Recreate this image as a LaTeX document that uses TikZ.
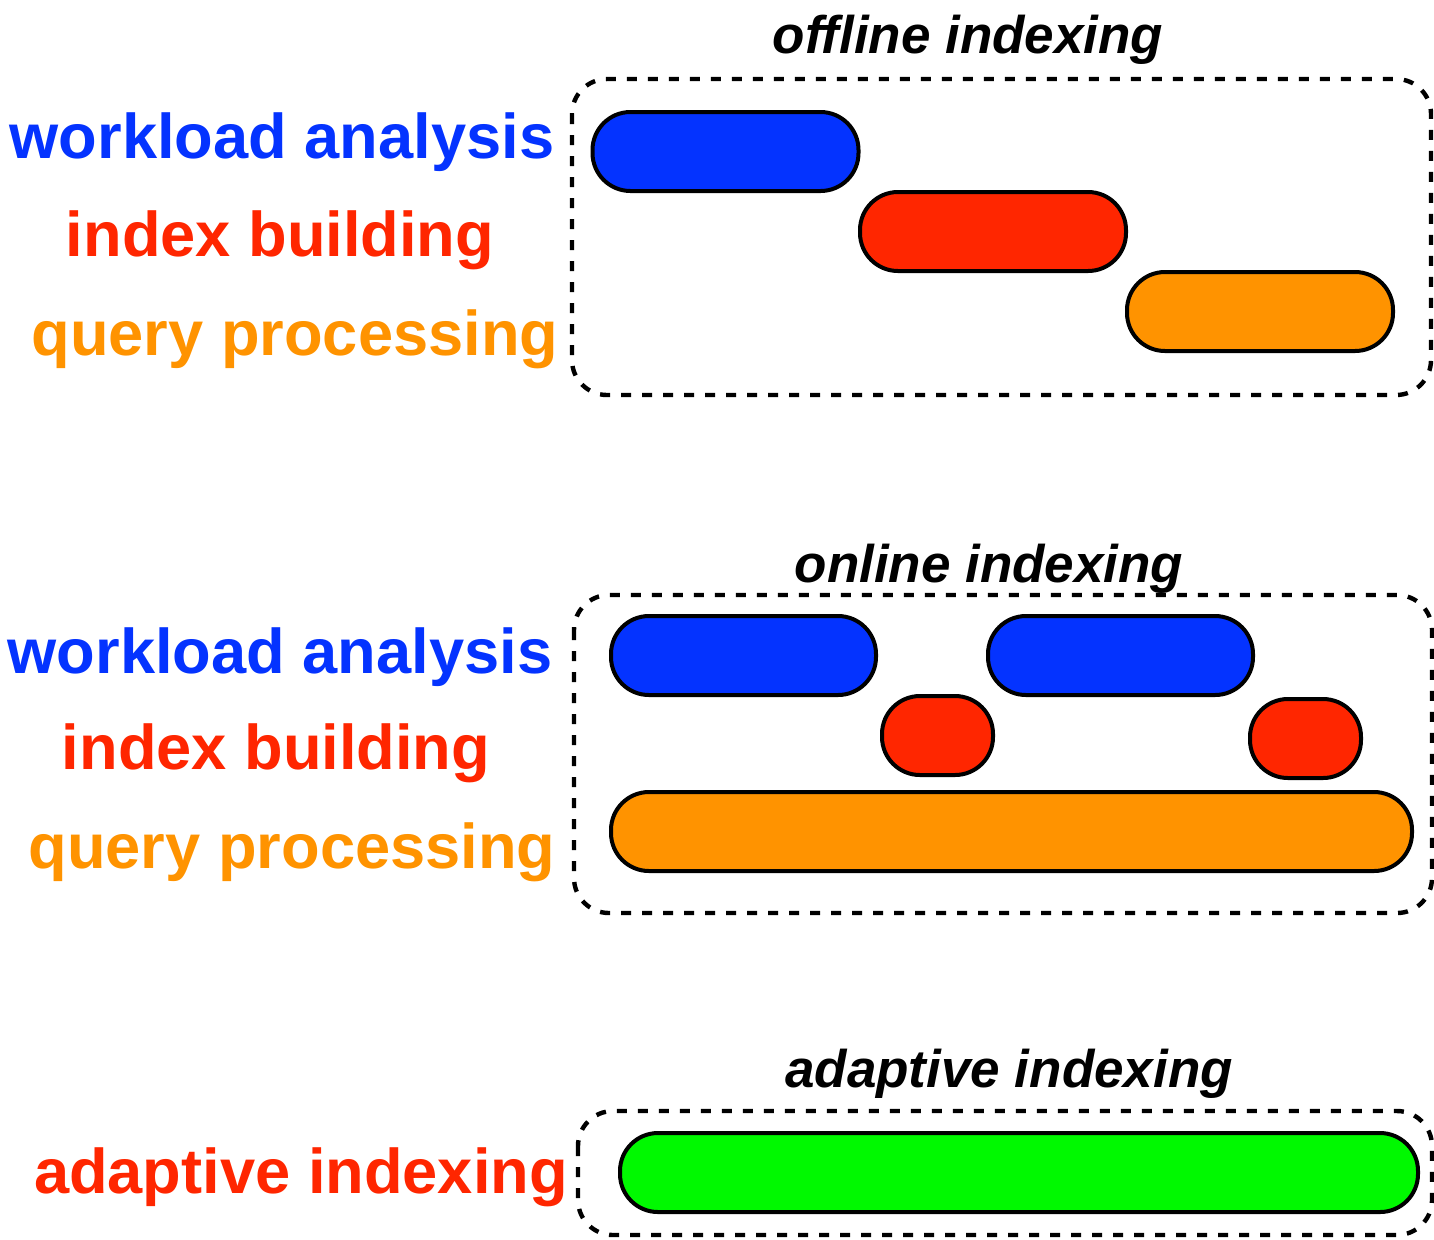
\documentclass[tikz,border=0pt]{standalone}
\usepackage{fontspec}
\setmainfont{Liberation Sans}
\definecolor{cblue}{HTML}{0433FF}
\definecolor{cred}{HTML}{FF2600}
\definecolor{corange}{HTML}{FF9300}
\definecolor{cgreen}{HTML}{00F900}
\begin{document}
\begin{tikzpicture}[x=0.5pt,y=-0.5pt,
  bar/.style={draw=black, line width=2pt, rectangle, rounded corners=19pt, minimum height=39.5pt, inner sep=0pt},
  wide/.style={minimum width=133pt},
  lbl/.style={font=\fontsize{31.6}{36}\selectfont\bfseries, anchor=base, inner sep=0pt},
  ttl/.style={font=\fontsize{26.5}{30}\selectfont\bfseries\itshape, anchor=base, inner sep=0pt},
  frame/.style={draw=black, line width=2.2pt, dash pattern=on 5pt off 5.5pt, rounded corners=17.5pt}]
\useasboundingbox (0,0) rectangle (1434,1239);
% ---------- offline ----------
\node[ttl] (t1) at (968,53) {offline indexing};
\draw[frame] (572,79) rectangle (1431,395);
\node[lbl, text=cblue] (wa1) at (282,158) {workload analysis};
\node[lbl, text=cred] (ib1) at (280,256) {index building};
\node[lbl, text=corange] (qp1) at (295,355) {query processing};
\node[bar, wide, fill=cblue] (b1) at (725.5,151.5) {};
\node[bar, wide, fill=cred] (r1) at (993,231.5) {};
\node[bar, wide, fill=corange] (o1) at (1260,311.5) {};
% ---------- online ----------
\node[ttl] (t2) at (989,582) {online indexing};
\draw[frame] (574,595) rectangle (1432,913);
\node[lbl, text=cblue] (wa2) at (280,673) {workload analysis};
\node[lbl, text=cred] (ib2) at (276,769) {index building};
\node[lbl, text=corange] (qp2) at (292,868) {query processing};
\node[bar, minimum width=132.5pt, fill=cblue] (b2a) at (743.5,655.5) {};
\node[bar, minimum width=132.5pt, fill=cblue] (b2b) at (1120.5,655.5) {};
\node[bar, minimum width=55.5pt, fill=cred] (r2a) at (937.5,735.5) {};
\node[bar, minimum width=55.5pt, fill=cred] (r2b) at (1305.5,738.5) {};
\node[bar, minimum width=400.5pt, fill=corange] (o2) at (1011.5,831.5) {};
% ---------- adaptive ----------
\node[ttl] (t3) at (1009,1087) {adaptive indexing};
\draw[frame] (578,1111) rectangle (1432,1235);
\node[lbl, text=cred] (ad) at (301,1193) {adaptive indexing};
\node[bar, minimum width=399pt, fill=cgreen] (g3) at (1019,1172.5) {};
\end{tikzpicture}
\end{document}
